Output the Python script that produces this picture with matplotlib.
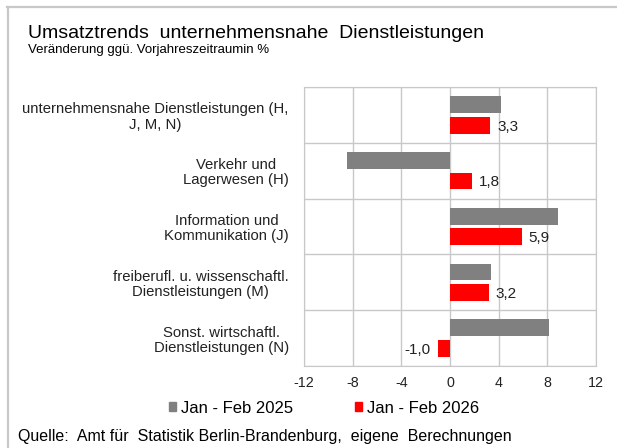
import matplotlib.pyplot as plt
import numpy as np
from matplotlib.patches import Patch
from matplotlib.lines import Line2D

plt.rcParams['font.family'] = ['Liberation Sans', 'DejaVu Sans']

COLOR_2025 = '#808080'
COLOR_2026 = '#ff0000'
GRID = '#c8c8c8'

kategorien = [
    'unternehmensnahe Dienstleistungen (H,\nJ, M, N)',
    'Verkehr und\nLagerwesen (H)',
    'Information und\nKommunikation (J)',
    'freiberufl. u. wissenschaftl.\nDienstleistungen (M)',
    'Sonst. wirtschaftl.\nDienstleistungen (N)',
]
werte_2025 = [4.2, -8.5, 8.9, 3.4, 8.1]
werte_2026 = [3.3, 1.8, 5.9, 3.2, -1.0]
serien = ['Jan - Feb 2025', 'Jan - Feb 2026']
xticks = [-12, -8, -4, 0, 4, 8, 12]

fig = plt.figure(figsize=(6.17, 4.48), dpi=100)
ax = fig.add_axes([304/617, 1 - 366/448, 292/617, 279/448])

y = np.arange(len(kategorien))
h = 0.3
ax.barh(y - 0.185, werte_2025, height=h, color=COLOR_2025, zorder=3)
bars = ax.barh(y + 0.185, werte_2026, height=h, color=COLOR_2026, zorder=3)

# Datenbeschriftung nur fuer 2026
for b, v in zip(bars, werte_2026):
    txt = f'{v:.1f}'.replace('.', ',')
    ha = 'left' if v >= 0 else 'right'
    off = 5 if v >= 0 else -5
    ax.annotate(txt, (v, b.get_y() + b.get_height()/2), xytext=(off, -1),
                textcoords='offset points', ha=ha, va='center', fontsize=11, color='#222222')

ax.set_xlim(-12, 12)
ax.set_ylim(len(kategorien) - 0.5, -0.5)
ax.set_xticks(xticks)
ax.set_xticklabels([str(t) for t in xticks], fontsize=10.3)
ax.set_yticks(y)
ax.set_yticklabels(kategorien, fontsize=10.7, multialignment='center', linespacing=1.1)
ax.tick_params(axis='both', length=0, colors='#222222')
ax.tick_params(axis='y', pad=11)
ax.tick_params(axis='x', pad=7)
for xv in xticks:
    ax.axvline(xv, color=GRID, lw=1, zorder=1)
for yv in np.arange(-0.5, len(kategorien), 1):
    ax.axhline(yv, color=GRID, lw=1, zorder=1)
for s in ax.spines.values():
    s.set_color(GRID)

# Rahmen oben und links
fig.add_artist(Line2D([7/617, 1], [1 - 7.5/448, 1 - 7.5/448], color='#c8c8c8', lw=1.6,
                      transform=fig.transFigure))
fig.add_artist(Line2D([7.5/617, 7.5/617], [0, 1 - 7.5/448], color='#c8c8c8', lw=1.6,
                      transform=fig.transFigure))

fig.text(28/617, 1 - 33/448, 'Umsatztrends  unternehmensnahe  Dienstleistungen',
         fontsize=14, va='center', ha='left')
fig.text(28/617, 1 - 50/448, 'Veränderung ggü. Vorjahreszeitraumin %',
         fontsize=9.5, va='center', ha='left')

handles = [Patch(color=COLOR_2025), Patch(color=COLOR_2026)]
fig.legend(handles, serien, loc='center', bbox_to_anchor=(324/617, 1 - 408/448),
           ncol=2, frameon=False, fontsize=12, handlelength=0.45, handleheight=0.45,
           handletextpad=0.3, columnspacing=3.7, borderpad=0)

fig.text(18/617, 1 - 436/448, 'Quelle:  Amt für  Statistik Berlin-Brandenburg,  eigene  Berechnungen',
         fontsize=11.5, va='center', ha='left')

fig.savefig('out.png', dpi=100)
